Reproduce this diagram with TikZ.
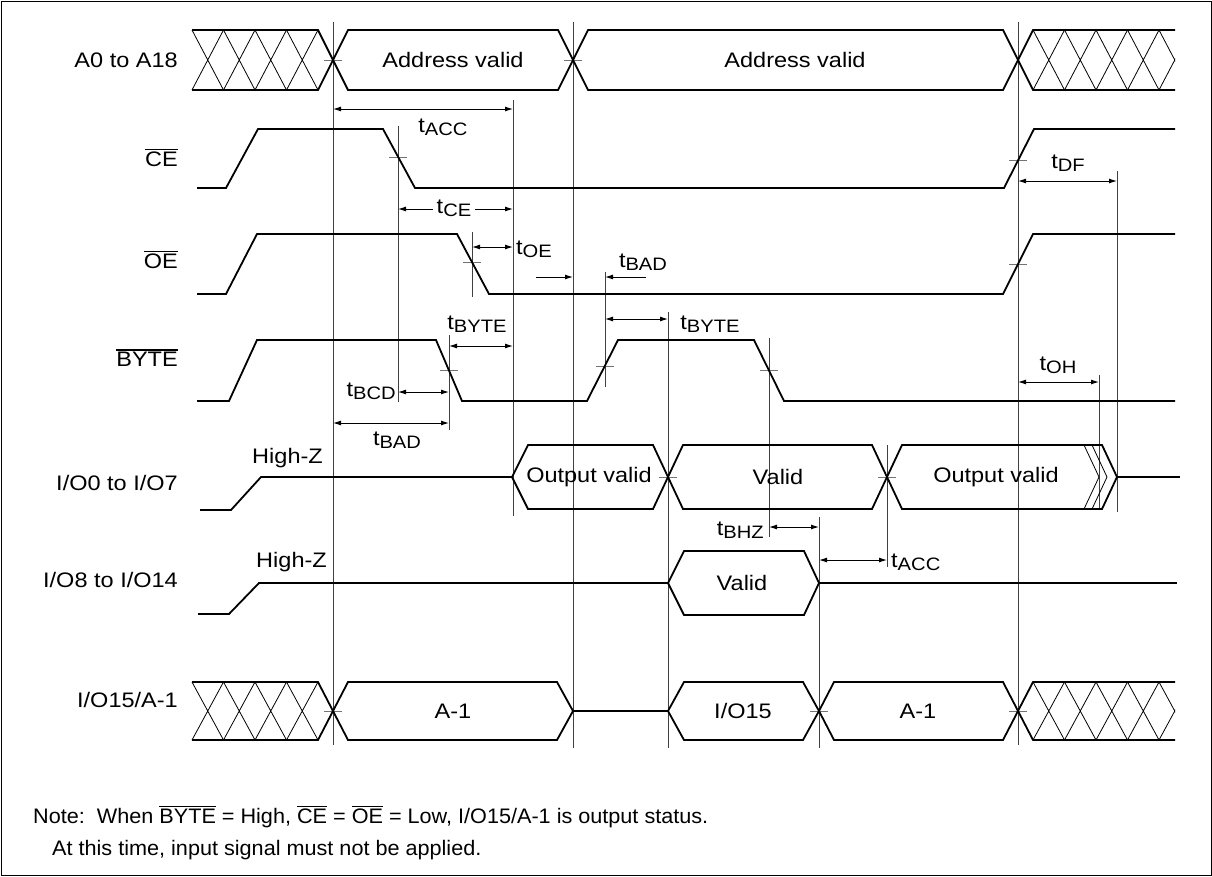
\documentclass[tikz,border=0pt]{standalone}
\usepackage{fontspec}
\setmainfont{Liberation Sans}[FakeStretch=1.12]
\newfontfamily\notefont{Liberation Sans}[FakeStretch=1.03]
\usetikzlibrary{arrows.meta}

\newcommand{\tsub}[1]{t\raisebox{-3pt}{\fontsize{18}{18}\selectfont #1}}
\newcommand{\ovl}[1]{\leavevmode\vbox{\hrule height 1.2pt\kern 1.6pt\hbox{#1}}}

\begin{document}
\begin{tikzpicture}[
  x=1pt, y=-1pt,
  font=\fontsize{21}{25}\selectfont,
  %line join=round,
  ]
  \tikzstyle{signal}=[line width=1.8pt]
  \tikzstyle{hatch}=[line width=0.8pt]
  \tikzstyle{guide}=[line width=1pt, black!75]
  \tikzstyle{tick}=[line width=0.9pt, black!55]
  \tikzstyle{dim}=[line width=1pt, {Latex[length=8pt,width=5pt]}-{Latex[length=8pt,width=5pt]}]
  \tikzstyle{half dim}=[line width=1pt, -{Latex[length=8pt,width=5pt]}]
  \tikzstyle{sig label}=[anchor=east, inner sep=0pt]
  \useasboundingbox (0,0) rectangle (1212,876);
  \draw[line width=1pt] (1,1) rectangle (1211,875);

  % signal names
  \node[sig label] (nA)   at (178,60)  {A0 to A18};
  \node[sig label] (nCE)  at (178,158) {\ovl{CE}};
  \node[sig label] (nOE)  at (178,260) {\ovl{OE}};
  \node[sig label] (nBY)  at (178,358) {\ovl{BYTE}};
  \node[sig label] (nIOa) at (178,483) {I/O0 to I/O7};
  \node[sig label] (nIOb) at (178,580) {I/O8 to I/O14};
  \node[sig label] (nIOc) at (178,700) {I/O15/A-1};

  % reference lines
  \draw[guide] (333,22) -- (333,745);
  \draw[guide] (398,126) -- (398,402);
  \draw[guide] (513,100) -- (513,516);
  \draw[guide] (573,22) -- (573,748);
  \draw[guide] (605,272) -- (605,387);
  \draw[guide] (668,312) -- (668,748);
  \draw[guide] (769,338) -- (769,537);
  \draw[guide] (819,517) -- (819,748);
  \draw[guide] (887,445) -- (887,567);
  \draw[guide] (1018,22) -- (1018,745);
  \draw[guide] (1099,375) -- (1099,508);
  \draw[guide] (1117,171) -- (1117,512);
  \draw[guide] (449,335) -- (449,430);
  \draw[guide] (472,232) -- (472,297);
  \foreach \x/\y in {333/60, 573/60, 398/157, 1018/160, 472/262, 1018/264,
                     449/370, 605/366, 769/370, 668/477, 887/477,
                     333/711, 819/711, 1018/711}
    \draw[tick] (\x-9,\y) -- (\x+9,\y);

  % A0 to A18
  \draw[signal] (192,30) -- (318,30) -- (333,60) -- (318,90) -- (192,90);
  \foreach \i in {0,...,3}
    \draw[hatch] ({192+31.5*\i},30) -- ({192+31.5*(\i+1)},90)
                 ({192+31.5*\i},90) -- ({192+31.5*(\i+1)},30);
  \draw[signal] (333,60) -- (348,30) -- (558,30) -- (573,60) -- (558,90) -- (348,90) -- cycle;
  \draw[signal] (573,60) -- (588,30) -- (1003,30) -- (1018,60) -- (1003,90) -- (588,90) -- cycle;
  \draw[signal] (1175,30) -- (1033,30) -- (1018,60) -- (1033,90) -- (1175,90);
  \begin{scope}
    \clip (1033,25) rectangle (1175,95);
    \foreach \i in {0,...,4}
      \draw[hatch] ({1033+31.5*\i},30) -- ({1033+31.5*(\i+1)},90)
                   ({1033+31.5*\i},90) -- ({1033+31.5*(\i+1)},30);
  \end{scope}
  \node (av1) at (453,60) {Address valid};
  \node (av2) at (795,60) {Address valid};

  % CE, OE, BYTE
  \draw[signal] (197,188) -- (226,188) -- (258,129) -- (383,129) -- (415,188)
    -- (1004,188) -- (1034,129) -- (1175,129);
  \draw[signal] (197,294) -- (226,294) -- (257,234) -- (457,234) -- (489,294)
    -- (1003,294) -- (1033,234) -- (1175,234);
  \draw[signal] (197,401) -- (229,401) -- (257,340) -- (436,340) -- (462,401)
    -- (587,401) -- (618,340) -- (754,340) -- (784,401) -- (1175,401);

  % I/O0 to I/O7
  \draw[signal] (200,510) -- (231,510) -- (261,477) -- (512,477);
  \draw[signal] (512,477) -- (528,445) -- (653,445) -- (668,477) -- (653,509) -- (528,509) -- cycle;
  \draw[signal] (668,477) -- (683,445) -- (872,445) -- (887,477) -- (872,509) -- (683,509) -- cycle;
  \draw[signal] (887,477) -- (902,445) -- (1102,445) -- (1117,477) -- (1102,509) -- (902,509) -- cycle;
  \draw[hatch] (1084,445) -- (1099,477) -- (1084,509) (1092,445) -- (1107,477) -- (1092,509);
  \draw[signal] (1117,477) -- (1180,477);
  \node[anchor=east, inner sep=0pt] (hz1) at (323,458) {High-Z};
  \node (ov1) at (589,477) {Output valid};
  \node (vl1) at (778,477) {Valid};
  \node (ov2) at (996,477) {Output valid};

  % I/O8 to I/O14
  \draw[signal] (198,614) -- (229,614) -- (259,583) -- (668,583);
  \draw[signal] (668,583) -- (684,551) -- (804,551) -- (819,583) -- (804,615) -- (684,615) -- cycle;
  \draw[signal] (819,583) -- (1177,583);
  \node[anchor=east, inner sep=0pt] (hz2) at (327,562) {High-Z};
  \node (vl2) at (742,583) {Valid};

  % I/O15/A-1
  \draw[signal] (192,682) -- (318,682) -- (333,711) -- (318,740) -- (192,740);
  \foreach \i in {0,...,3}
    \draw[hatch] ({192+31.5*\i},682) -- ({192+31.5*(\i+1)},740)
                 ({192+31.5*\i},740) -- ({192+31.5*(\i+1)},682);
  \draw[signal] (333,711) -- (348,682) -- (557,682) -- (573,711) -- (557,740) -- (348,740) -- cycle;
  \draw[signal] (573,711) -- (668,711);
  \draw[signal] (668,711) -- (684,682) -- (803,682) -- (819,711) -- (803,740) -- (684,740) -- cycle;
  \draw[signal] (819,711) -- (834,682) -- (1003,682) -- (1018,711) -- (1003,740) -- (834,740) -- cycle;
  \draw[signal] (1175,682) -- (1033,682) -- (1018,711) -- (1033,740) -- (1175,740);
  \begin{scope}
    \clip (1033,677) rectangle (1175,745);
    \foreach \i in {0,...,4}
      \draw[hatch] ({1033+31.5*\i},682) -- ({1033+31.5*(\i+1)},740)
                   ({1033+31.5*\i},740) -- ({1033+31.5*(\i+1)},682);
  \end{scope}
  \node (am1) at (453,711) {A-1};
  \node (io15) at (743,711) {I/O15};
  \node (am2) at (918,711) {A-1};

  % timing parameters
  \draw[dim] (333,109) -- (513,109);
  \node (tacc1) at (443,127) {\tsub{ACC}};
  \draw[dim] (398,209) -- (513,209);
  \node[fill=white, inner sep=4pt] (tce) at (454,208) {\tsub{CE}};
  \draw[dim] (472,247) -- (513,247);
  \node[anchor=west, inner sep=0pt] (toe) at (516,249) {\tsub{OE}};
  \draw[half dim] (536,277) -- (573,277);
  \draw[half dim] (646,277) -- (605,277);
  \node (tbad1) at (643,262) {\tsub{BAD}};
  \draw[dim] (449,346) -- (513,346);
  \node (tbyte1) at (477,324) {\tsub{BYTE}};
  \draw[dim] (605,319) -- (668,319);
  \node (tbyte2) at (710,324) {\tsub{BYTE}};
  \draw[dim] (398,392) -- (449,392);
  \node[anchor=east, inner sep=0pt] (tbcd) at (396,391) {\tsub{BCD}};
  \draw[dim] (333,423) -- (449,423);
  \node (tbad2) at (397,440) {\tsub{BAD}};
  \draw[dim] (1018,181) -- (1117,181);
  \node (tdf) at (1068,163) {\tsub{DF}};
  \draw[dim] (1018,382) -- (1099,382);
  \node (toh) at (1058,365) {\tsub{OH}};
  \draw[dim] (769,527) -- (819,527);
  \node[anchor=east, inner sep=0pt] (tbhz) at (764,530) {\tsub{BHZ}};
  \draw[dim] (819,560) -- (887,560);
  \node[anchor=west, inner sep=0pt] (tacc2) at (891,562) {\tsub{ACC}};

  % note
  \node[anchor=base west, inner sep=0pt, font=\notefont\fontsize{21}{25}\selectfont] (note1) at (33,823)
    {Note:\ \ When \ovl{BYTE} = High, \ovl{CE} = \ovl{OE} = Low, I/O15/A-1 is output status.};
  \node[anchor=base west, inner sep=0pt, font=\notefont\fontsize{21}{25}\selectfont] (note2) at (52,855)
    {At this time, input signal must not be applied.};
\end{tikzpicture}
\end{document}
